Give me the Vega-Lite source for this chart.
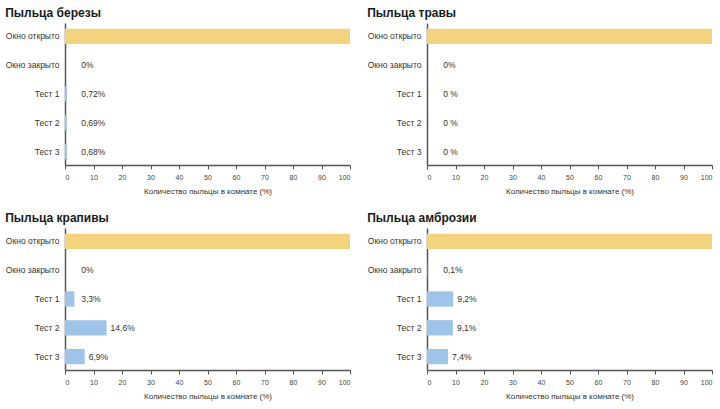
{
  "$schema": "https://vega.github.io/schema/vega-lite/v6.json",
  "background": "white",
  "padding": {"left": 5, "top": 7, "right": 5, "bottom": 5},
  "datasets": {
    "pollen": [
      {"panel": "b", "cat": "Окно открыто", "value": 100, "label": "", "kind": "open"},
      {"panel": "b", "cat": "Окно закрыто", "value": 0, "label": "0%", "kind": "closed"},
      {"panel": "b", "cat": "Тест 1", "value": 0.72, "label": "0,72%", "kind": "test"},
      {"panel": "b", "cat": "Тест 2", "value": 0.69, "label": "0,69%", "kind": "test"},
      {"panel": "b", "cat": "Тест 3", "value": 0.68, "label": "0,68%", "kind": "test"},
      {"panel": "g", "cat": "Окно открыто", "value": 100, "label": "", "kind": "open"},
      {"panel": "g", "cat": "Окно закрыто", "value": 0, "label": "0%", "kind": "closed"},
      {"panel": "g", "cat": "Тест 1", "value": 0, "label": "0 %", "kind": "test"},
      {"panel": "g", "cat": "Тест 2", "value": 0, "label": "0 %", "kind": "test"},
      {"panel": "g", "cat": "Тест 3", "value": 0, "label": "0 %", "kind": "test"},
      {"panel": "n", "cat": "Окно открыто", "value": 100, "label": "", "kind": "open"},
      {"panel": "n", "cat": "Окно закрыто", "value": 0, "label": "0%", "kind": "closed"},
      {"panel": "n", "cat": "Тест 1", "value": 3.3, "label": "3,3%", "kind": "test"},
      {"panel": "n", "cat": "Тест 2", "value": 14.6, "label": "14,6%", "kind": "test"},
      {"panel": "n", "cat": "Тест 3", "value": 6.9, "label": "6,9%", "kind": "test"},
      {"panel": "a", "cat": "Окно открыто", "value": 100, "label": "", "kind": "open"},
      {"panel": "a", "cat": "Окно закрыто", "value": 0.1, "label": "0,1%", "kind": "closed"},
      {"panel": "a", "cat": "Тест 1", "value": 9.2, "label": "9,2%", "kind": "test"},
      {"panel": "a", "cat": "Тест 2", "value": 9.1, "label": "9,1%", "kind": "test"},
      {"panel": "a", "cat": "Тест 3", "value": 7.4, "label": "7,4%", "kind": "test"}
    ]
  },
  "columns": 2,
  "spacing": {"row": 17, "column": 13},
  "config": {
    "font": "Liberation Sans",
    "view": {"stroke": null},
    "title": {"anchor": "start", "fontSize": 12, "fontWeight": "bold", "color": "#1a1a1a", "offset": 3, "frame": "bounds"},
    "axis": {"grid": false, "domainColor": "#555", "domainWidth": 1.5, "tickColor": "#555", "labelColor": "#333", "titleColor": "#333", "titleFontWeight": "normal"},
    "axisX": {"labelFontSize": 7, "tickSize": 4, "labelPadding": 4, "titleFontSize": 8, "titlePadding": 7, "labelColor": "#444", "labelOverlap": false},
    "axisY": {"ticks": false, "labelFontSize": 8.5, "labelPadding": 6, "title": null}
  },
  "concat": [
    {
      "title": "Пыльца березы",
      "width": 285, "height": 142,
      "data": {"name": "pollen"},
      "transform": [{"filter": "datum.panel === 'b'"}, {"calculate": "max(datum.value, 4.3)", "as": "lx"}],
      "encoding": {"y": {"field": "cat", "type": "nominal", "sort": null, "scale": {"paddingInner": 0.47, "paddingOuter": 0.2}}},
      "layer": [
        {"mark": {"type": "bar"}, "encoding": {"x": {"field": "value", "type": "quantitative", "scale": {"domain": [0, 100], "nice": false}, "axis": {"values": [0,10,20,30,40,50,60,70,80,90,100], "title": "Количество пыльцы в комнате (%)"}}, "color": {"field": "kind", "type": "nominal", "scale": {"domain": ["open","closed","test"], "range": ["#F3D37E","#9EC5E8","#9EC5E8"]}, "legend": null}}},
        {"mark": {"type": "text", "align": "left", "dx": 4, "fontSize": 8.5, "color": "#333"}, "encoding": {"x": {"field": "lx", "type": "quantitative", "axis": {"values": [0,10,20,30,40,50,60,70,80,90,100], "title": "Количество пыльцы в комнате (%)"}}, "text": {"field": "label"}}}
      ]
    },
    {
      "title": "Пыльца травы",
      "width": 285, "height": 142,
      "data": {"name": "pollen"},
      "transform": [{"filter": "datum.panel === 'g'"}, {"calculate": "max(datum.value, 4.3)", "as": "lx"}],
      "encoding": {"y": {"field": "cat", "type": "nominal", "sort": null, "scale": {"paddingInner": 0.47, "paddingOuter": 0.2}}},
      "layer": [
        {"mark": {"type": "bar"}, "encoding": {"x": {"field": "value", "type": "quantitative", "scale": {"domain": [0, 100], "nice": false}, "axis": {"values": [0,10,20,30,40,50,60,70,80,90,100], "title": "Количество пыльцы в комнате (%)"}}, "color": {"field": "kind", "type": "nominal", "scale": {"domain": ["open","closed","test"], "range": ["#F3D37E","#9EC5E8","#9EC5E8"]}, "legend": null}}},
        {"mark": {"type": "text", "align": "left", "dx": 4, "fontSize": 8.5, "color": "#333"}, "encoding": {"x": {"field": "lx", "type": "quantitative", "axis": {"values": [0,10,20,30,40,50,60,70,80,90,100], "title": "Количество пыльцы в комнате (%)"}}, "text": {"field": "label"}}}
      ]
    },
    {
      "title": "Пыльца крапивы",
      "width": 285, "height": 142,
      "data": {"name": "pollen"},
      "transform": [{"filter": "datum.panel === 'n'"}, {"calculate": "max(datum.value, 4.3)", "as": "lx"}],
      "encoding": {"y": {"field": "cat", "type": "nominal", "sort": null, "scale": {"paddingInner": 0.47, "paddingOuter": 0.2}}},
      "layer": [
        {"mark": {"type": "bar"}, "encoding": {"x": {"field": "value", "type": "quantitative", "scale": {"domain": [0, 100], "nice": false}, "axis": {"values": [0,10,20,30,40,50,60,70,80,90,100], "title": "Количество пыльцы в комнате (%)"}}, "color": {"field": "kind", "type": "nominal", "scale": {"domain": ["open","closed","test"], "range": ["#F3D37E","#9EC5E8","#9EC5E8"]}, "legend": null}}},
        {"mark": {"type": "text", "align": "left", "dx": 4, "fontSize": 8.5, "color": "#333"}, "encoding": {"x": {"field": "lx", "type": "quantitative", "axis": {"values": [0,10,20,30,40,50,60,70,80,90,100], "title": "Количество пыльцы в комнате (%)"}}, "text": {"field": "label"}}}
      ]
    },
    {
      "title": "Пыльца амброзии",
      "width": 285, "height": 142,
      "data": {"name": "pollen"},
      "transform": [{"filter": "datum.panel === 'a'"}, {"calculate": "max(datum.value, 4.3)", "as": "lx"}],
      "encoding": {"y": {"field": "cat", "type": "nominal", "sort": null, "scale": {"paddingInner": 0.47, "paddingOuter": 0.2}}},
      "layer": [
        {"mark": {"type": "bar"}, "encoding": {"x": {"field": "value", "type": "quantitative", "scale": {"domain": [0, 100], "nice": false}, "axis": {"values": [0,10,20,30,40,50,60,70,80,90,100], "title": "Количество пыльцы в комнате (%)"}}, "color": {"field": "kind", "type": "nominal", "scale": {"domain": ["open","closed","test"], "range": ["#F3D37E","#9EC5E8","#9EC5E8"]}, "legend": null}}},
        {"mark": {"type": "text", "align": "left", "dx": 4, "fontSize": 8.5, "color": "#333"}, "encoding": {"x": {"field": "lx", "type": "quantitative", "axis": {"values": [0,10,20,30,40,50,60,70,80,90,100], "title": "Количество пыльцы в комнате (%)"}}, "text": {"field": "label"}}}
      ]
    }
  ]
}
